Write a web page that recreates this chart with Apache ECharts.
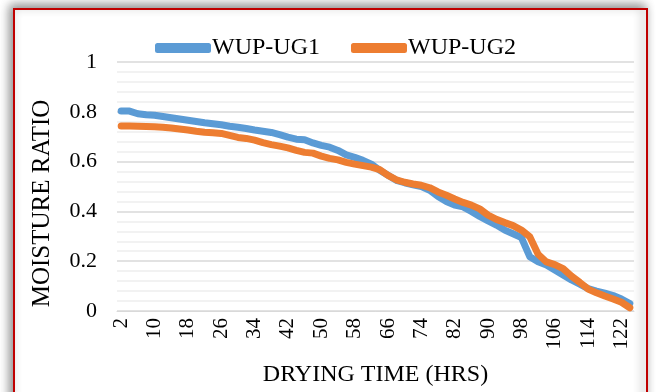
<!DOCTYPE html>
<html>
<head>
<meta charset="utf-8">
<script src="https://cdn.jsdelivr.net/npm/echarts@6/dist/echarts.min.js"></script>
<style>
html,body{margin:0;padding:0;background:#fff;}
#c{width:656px;height:392px;}
</style>
</head>
<body>
<div id="c"></div>
<script>
var hours = [];
for (var h = 2; h <= 124; h += 2) hours.push(String(h));
var ug1 = [0.803,0.803,0.792,0.788,0.786,0.781,0.776,0.771,0.766,0.761,
0.756,0.752,0.748,0.742,0.738,0.733,0.727,0.722,0.717,0.708,
0.698,0.690,0.688,0.675,0.665,0.658,0.645,0.627,0.617,0.605,
0.590,0.565,0.545,0.525,0.515,0.507,0.500,0.485,0.460,0.440,
0.425,0.418,0.400,0.380,0.362,0.345,0.325,0.310,0.295,0.218,
0.198,0.185,0.165,0.145,0.125,0.108,0.090,0.080,0.072,0.062,
0.048,0.030];
var ug2 = [0.743,0.743,0.742,0.741,0.740,0.738,0.735,0.731,0.727,0.722,
0.718,0.716,0.713,0.705,0.697,0.693,0.686,0.676,0.668,0.662,
0.655,0.645,0.637,0.634,0.622,0.613,0.607,0.597,0.590,0.584,
0.578,0.568,0.545,0.527,0.517,0.510,0.505,0.495,0.478,0.465,
0.450,0.436,0.425,0.410,0.385,0.368,0.355,0.343,0.325,0.298,
0.228,0.197,0.186,0.170,0.140,0.115,0.088,0.073,0.060,0.048,
0.035,0.013];
var seriesNames = ['WUP-UG1','WUP-UG2'];
var FONT = 'Liberation Serif';
var chart = echarts.init(document.getElementById('c'), null, {renderer:'canvas'});
chart.setOption({
  backgroundColor:'#fff',
  animation:false,
  graphic:[{
    type:'rect', z:-10, silent:true,
    shape:{x:14,y:9,width:633,height:400},
    style:{fill:'#fff',stroke:'#c00000',lineWidth:2,
      shadowBlur:10,shadowColor:'rgba(0,0,0,0.45)',shadowOffsetX:-3,shadowOffsetY:-3}
  }],
  legend:{
    top:31, left:150, itemWidth:56, itemHeight:10, itemGap:31,
    icon:'roundRect',
    textStyle:{fontFamily:FONT,fontSize:24,color:'#000',padding:[0,0,0,-4]},
    data:seriesNames
  },
  grid:{left:117,right:22,top:62,bottom:78,containLabel:false},
  xAxis:{
    type:'category', data:hours, boundaryGap:true,
    name:'DRYING TIME (HRS)', nameLocation:'middle', nameGap:52,
    nameTextStyle:{fontFamily:FONT,fontSize:24,color:'#000'},
    axisLine:{show:true,lineStyle:{color:'#d9d9d9',width:1}},
    axisTick:{show:false},
    axisLabel:{interval:3,rotate:90,fontFamily:FONT,fontSize:21,color:'#000',margin:7},
    splitLine:{show:false}
  },
  yAxis:{
    type:'value', min:0, max:1, interval:0.2,
    name:'MOISTURE RATIO', nameLocation:'middle', nameGap:62,
    nameTextStyle:{fontFamily:FONT,fontSize:25,color:'#000',padding:[0,34,0,0]},
    axisLine:{show:false}, axisTick:{show:false},
    axisLabel:{fontFamily:FONT,fontSize:22,color:'#000',margin:20,
      formatter:function(v){return String(Math.round(v*10)/10);}},
    splitLine:{show:true,lineStyle:{color:'#d9d9d9',width:1.5}},
    minorTick:{show:false,splitNumber:5},
    minorSplitLine:{show:true,lineStyle:{color:'#eeeeee',width:1.5}}
  },
  series:[
    {name:seriesNames[0],type:'line',data:ug1,showSymbol:false,
     lineStyle:{color:'#5b9bd5',width:7,cap:'round',join:'round'},itemStyle:{color:'#5b9bd5'},z:2},
    {name:seriesNames[1],type:'line',data:ug2,showSymbol:false,
     lineStyle:{color:'#ed7d31',width:7,cap:'round',join:'round'},itemStyle:{color:'#ed7d31'},z:3}
  ]
});
</script>
</body>
</html>
